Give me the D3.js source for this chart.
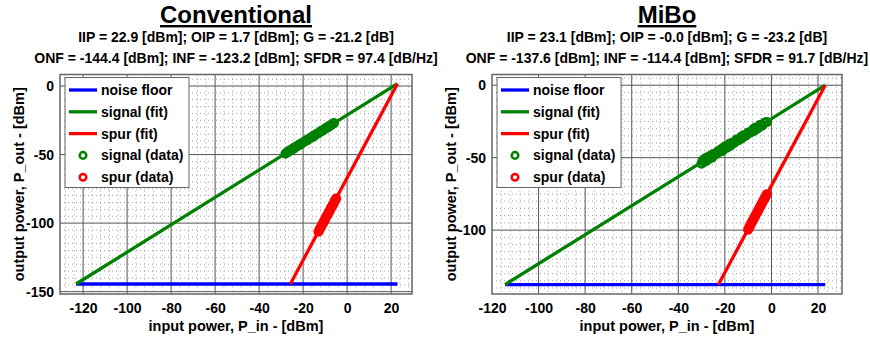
<!DOCTYPE html>
<html><head><meta charset="utf-8">
<script src="https://cdn.jsdelivr.net/npm/d3@7"></script>
<style>body{margin:0;background:#fff}svg{display:block}text{font-family:"Liberation Sans",Arial,sans-serif;font-weight:bold}</style>
</head><body><svg id="c" width="870" height="341"></svg>
<script>
// ---- data ----
const panelTitles = ["Conventional", "MiBo"];
const iipVals  = [22.9, 23.1];
const oipVals  = [1.7, -0.0];
const gainVals = [-21.2, -23.2];
const onfVals  = [-144.4, -137.6];
const infVals  = [-123.2, -114.4];
const sfdrVals = [97.4, 91.7];
const xTickVals = [-120, -100, -80, -60, -40, -20, 0, 20];
const yTickValsL = [-150, -100, -50, 0];
const yTickValsR = [-100, -50, 0];
const xDomains = [[-130.5, 29.5], [-120, 30.3]];
const yDomains = [[-151.7, 8.4], [-144.1, 7.4]];
const legendLabels = ["noise floor", "signal (fit)", "spur (fit)", "signal (data)", "spur (data)"];
// measured points (input power dBm, output power dBm)
const sigInL  = [-28,-27,-26.5,-26,-25,-24.5,-24,-23,-22,-21.5,-21,-20,-19,-18.5,-18,-17,-16,-15.5,-15,-14,-13,-12,-11.5,-11,-10,-9,-8.5,-8,-7,-6];
const sigOutL = [-49.3,-48.0,-47.9,-47.0,-46.4,-45.5,-45.3,-44.0,-43.4,-42.5,-42.3,-41.1,-40.3,-39.6,-39.3,-38.1,-37.4,-36.6,-36.3,-35.1,-34.4,-33.1,-32.8,-32.3,-31.1,-30.4,-29.6,-29.3,-28.2,-27.1];
const spurInL  = [-13,-12.5,-12,-11.5,-11,-10.5,-10,-9.5,-9,-8.5,-8,-7.5,-7,-6.5,-6,-5.5,-5];
const spurOutL = [-106.3,-104.5,-103.2,-101.4,-100.2,-98.6,-97.3,-95.4,-94.2,-92.7,-91.3,-89.4,-88.1,-86.6,-85.2,-83.4,-82.1];
const sigInR  = [-30,-29.5,-29,-28.5,-28,-27.5,-27,-26,-25.5,-25,-24,-23,-22,-21.5,-21,-20,-19,-18,-17.5,-17,-16,-15,-14,-13,-12.5,-12,-11,-10,-9,-8,-7.5,-7,-6,-5,-4,-3,-2];
const sigOutR = [-54.1,-51.9,-52.8,-50.6,-52.2,-49.8,-51.1,-48.5,-49.9,-47.6,-47.8,-45.7,-45.9,-44.1,-45.2,-42.4,-43.1,-40.5,-41.6,-39.7,-39.8,-37.6,-37.9,-35.7,-36.4,-34.6,-34.8,-32.7,-32.8,-30.6,-31.5,-29.4,-29.9,-27.6,-27.9,-25.8,-25.4];
const spurInR  = [-10,-9.5,-9,-8.5,-8,-7.5,-7,-6.5,-6,-5.5,-5,-4.5,-4,-3.5,-3,-2.5,-2];
const spurOutR = [-99.6,-97.8,-96.5,-94.7,-93.4,-91.8,-90.4,-88.7,-87.5,-85.8,-84.1,-82.8,-81.3,-79.6,-78.4,-76.8,-75.3];

const boxes = [{x0:60, x1:412, y0:74.5, y1:294}, {x0:492, x1:842, y0:74.5, y1:294}];
const FONT = '"Liberation Sans",Arial,sans-serif';
const svg = d3.select("#c");
svg.append("rect").attr("width",870).attr("height",341).attr("fill","#fff");

function d3range(a, b, s){ const r=[]; for(let v=a; v<=b+1e-9; v+=s) r.push(+v.toFixed(6)); return r; }

function panel(i){
  const b = boxes[i];
  const x = d3.scaleLinear().domain(xDomains[i]).range([b.x0, b.x1]);
  const y = d3.scaleLinear().domain(yDomains[i]).range([b.y1, b.y0]);
  const g = svg.append("g");
  const yTicks = i === 0 ? yTickValsL : yTickValsR;
  const sigIn = i===0?sigInL:sigInR, sigOut = i===0?sigOutL:sigOutR;
  const spIn = i===0?spurInL:spurInR, spOut = i===0?spurOutL:spurOutR;
  const cx = (b.x0+b.x1)/2;

  // minor grid
  const xMinor = d3range(-160, 40, 4).filter(v => v>xDomains[i][0] && v<xDomains[i][1] && v%20!==0);
  const yMinor = d3range(-200, 50, 5).filter(v => v>yDomains[i][0] && v<yDomains[i][1] && v%50!==0);
  g.selectAll(null).data(xMinor).join("line")
    .attr("x1", d=>x(d)).attr("x2", d=>x(d)).attr("y1", b.y0).attr("y2", b.y1)
    .attr("stroke", "#888").attr("stroke-width", 0.8).attr("stroke-dasharray", "1,3");
  g.selectAll(null).data(yMinor).join("line")
    .attr("y1", d=>y(d)).attr("y2", d=>y(d)).attr("x1", b.x0).attr("x2", b.x1)
    .attr("stroke", "#888").attr("stroke-width", 0.8).attr("stroke-dasharray", "1,3");
  // major grid
  g.selectAll(null).data(xTickVals.filter(v=>v>xDomains[i][0]+0.5)).join("line")
    .attr("x1", d=>x(d)).attr("x2", d=>x(d)).attr("y1", b.y0).attr("y2", b.y1)
    .attr("stroke", "#555").attr("stroke-width", 1);
  g.selectAll(null).data(yTicks).join("line")
    .attr("y1", d=>y(d)).attr("y2", d=>y(d)).attr("x1", b.x0).attr("x2", b.x1)
    .attr("stroke", "#555").attr("stroke-width", 1);

  // axes
  const fmt = d => String(d);
  const xAxis = d3.axisBottom(x).tickValues(xTickVals).tickSize(0).tickPadding(9).tickFormat(fmt);
  const gx = g.append("g").attr("transform", `translate(0,${b.y1})`).call(xAxis);
  gx.select(".domain").remove();
  gx.selectAll("text").attr("font-size", 14).attr("fill", "#000")
    .style("font-family", FONT).style("font-weight", "bold");
  const yAxis = d3.axisLeft(y).tickValues(yTicks).tickSize(0).tickPadding(6).tickFormat(fmt);
  const gy = g.append("g").attr("transform", `translate(${b.x0},0)`).call(yAxis);
  gy.select(".domain").remove();
  gy.selectAll("text").attr("font-size", 14).attr("fill", "#000")
    .style("font-family", FONT).style("font-weight", "bold");

  // box
  g.append("rect").attr("x", b.x0).attr("y", b.y0).attr("width", b.x1-b.x0).attr("height", b.y1-b.y0)
    .attr("fill", "none").attr("stroke", "#666").attr("stroke-width", 1.5);

  // fit lines
  const iip = iipVals[i], oip = oipVals[i], onf = onfVals[i], inf = infVals[i];
  const spurStart = iip - (oip - onf)/3;
  const line = d3.line().x(d=>x(d[0])).y(d=>y(d[1]));
  g.append("path").attr("d", line([[inf, onf],[iip, onf]])).attr("stroke", "#0000ff").attr("stroke-width", 3.3).attr("fill","none");
  g.append("path").attr("d", line([[inf, onf],[iip, oip]])).attr("stroke", "#008000").attr("stroke-width", 3.3).attr("fill","none");
  g.append("path").attr("d", line([[spurStart, onf],[iip, oip]])).attr("stroke", "#ff0000").attr("stroke-width", 3.3).attr("fill","none");

  // data
  g.selectAll(null).data(sigIn.map((v,k)=>[v,sigOut[k]])).join("circle")
    .attr("cx", d=>x(d[0])).attr("cy", d=>y(d[1])).attr("r", 3.8)
    .attr("fill","none").attr("stroke","#008000").attr("stroke-width",2.6);
  g.selectAll(null).data(spIn.map((v,k)=>[v,spOut[k]])).join("circle")
    .attr("cx", d=>x(d[0])).attr("cy", d=>y(d[1])).attr("r", 3.8)
    .attr("fill","none").attr("stroke","#ff0000").attr("stroke-width",2.6);

  // legend
  const lx = b.x0 + 5, ly = 77.5;
  const lg = g.append("g");
  lg.append("rect").attr("x", lx).attr("y", ly).attr("width", 124).attr("height", 110)
    .attr("fill", "#fff").attr("stroke", "#666").attr("stroke-width", 1);
  const colors = ["#0000ff", "#008000", "#ff0000", "#008000", "#ff0000"];
  legendLabels.forEach((t, k) => {
    const yy = ly + 12.5 + k*21.8;
    if (k < 3) {
      lg.append("line").attr("x1", lx+4).attr("x2", lx+32).attr("y1", yy).attr("y2", yy)
        .attr("stroke", colors[k]).attr("stroke-width", 3.3);
    } else {
      lg.append("circle").attr("cx", lx+18).attr("cy", yy).attr("r", 3.3)
        .attr("fill","none").attr("stroke",colors[k]).attr("stroke-width",2.5);
    }
    lg.append("text").attr("x", lx+36).attr("y", yy+5).attr("font-size", 14).text(t);
  });

  // labels
  g.append("text").attr("x", cx).attr("y", 331).attr("text-anchor","middle").attr("font-size",14.5)
    .text("input power, P_in - [dBm]");
  g.append("text").attr("transform", `translate(${b.x0-36},${(b.y0+b.y1)/2}) rotate(-90)`)
    .attr("text-anchor","middle").attr("font-size",14.5).text("output power, P_out - [dBm]");

  // titles
  g.append("text").attr("x", cx).attr("y", 23).attr("text-anchor","middle").attr("font-size", 24)
    .attr("text-decoration","underline").text(panelTitles[i]);
  const oipTxt = (i===1 ? "-0.0" : oip.toFixed(1));
  g.append("text").attr("x", cx).attr("y", 42).attr("text-anchor","middle").attr("font-size", 14)
    .text(`IIP = ${iip.toFixed(1)} [dBm]; OIP = ${oipTxt} [dBm]; G = ${gainVals[i].toFixed(1)} [dB]`);
  g.append("text").attr("x", cx).attr("y", 63).attr("text-anchor","middle").attr("font-size", 14)
    .text(`ONF = ${onf.toFixed(1)} [dBm]; INF = ${inf.toFixed(1)} [dBm]; SFDR = ${sfdrVals[i].toFixed(1)} [dB/Hz]`);
}
panel(0); panel(1);
</script></body></html>
